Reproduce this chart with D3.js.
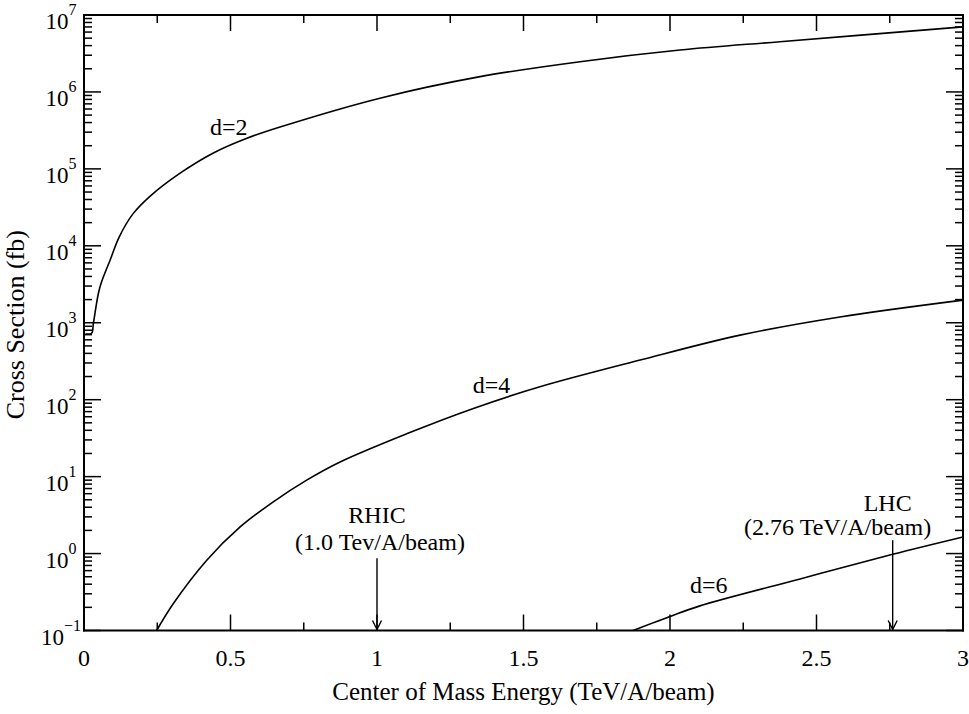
<!DOCTYPE html>
<html>
<head>
<meta charset="utf-8">
<script src="https://cdn.jsdelivr.net/npm/d3@7"></script>
<style>
  body { margin: 0; background: #fff; }
  text { font-family: "Liberation Serif", "Times New Roman", serif; fill: #000; }
</style>
</head>
<body>
<div id="chart"></div>
<script>
// energies (TeV/A/beam) and cross sections (fb)
var energyD2 = [0.005, 0.026, 0.032, 0.049, 0.060, 0.089, 0.12, 0.167, 0.225, 0.328, 0.44, 0.556, 0.669, 1.01, 1.352, 1.693, 2.034, 2.375, 3.0];
var sigmaD2  = [720, 730, 980, 2400, 3400, 6500, 1.3e4, 2.6e4, 4.4e4, 8.8e4, 1.6e5, 2.5e5, 3.5e5, 8.3e5, 1.58e6, 2.47e6, 3.5e6, 4.5e6, 7.0e6];

var energyD4 = [0.248, 0.305, 0.419, 0.532, 0.646, 0.760, 0.874, 1.101, 1.329, 1.556, 1.898, 2.239, 2.580, 3.0];
var sigmaD4  = [0.1, 0.224, 0.82, 2.2, 4.7, 9.0, 15.5, 36, 77, 147, 327, 690, 1190, 1970];

var energyD6 = [1.874, 1.998, 2.102, 2.444, 2.76, 3.0];
var sigmaD6  = [0.1, 0.151, 0.209, 0.468, 0.977, 1.64];

var xMajorTicks = [0, 0.5, 1, 1.5, 2, 2.5, 3];
var xTickLabels = ["0", "0.5", "1", "1.5", "2", "2.5", "3"];
var yExponents = [-1, 0, 1, 2, 3, 4, 5, 6, 7];

var curveLabels = ["d=2", "d=4", "d=6"];
var curveLabelAt = [[0.43, 2.75e5], [1.327, 122], [2.068, 0.305]];

var colliders = ["RHIC", "LHC"];
var colliderEnergy = [1.0, 2.76];
var colliderNotes = ["(1.0 Tev/A/beam)", "(2.76 TeV/A/beam)"];

var svgW = 969, svgH = 714;
var m = { left: 84, top: 15, right: 6, bottom: 83.5 };
var plotW = svgW - m.left - m.right,
    plotH = svgH - m.top - m.bottom;
var pLeft = m.left, pRight = m.left + plotW, pTop = m.top, pBottom = m.top + plotH;

var svg = d3.select("#chart").append("svg")
    .attr("width", svgW)
    .attr("height", svgH);

var xScale = d3.scaleLinear().domain([0, 3]).range([pLeft, pRight]);
var yScale = d3.scaleLog().domain([0.1, 1e7]).range([pBottom, pTop]);

// ticks, mirrored on all four sides and pointing inward
var xMinor = d3.range(0.25, 3, 0.5);
var yMajor = yExponents.map(function(e) { return Math.pow(10, e); });
var yMinor = [];
yExponents.slice(0, -1).forEach(function(e) {
    for (var k = 2; k <= 9; k++) yMinor.push(k * Math.pow(10, e));
});

var xTicks = xMajorTicks.map(function(v) { return [v, 16]; })
    .concat(xMinor.map(function(v) { return [v, 8]; }));
var yTicks = yMajor.map(function(v) { return [v, 17]; })
    .concat(yMinor.map(function(v) { return [v, 8]; }));

var ticks = svg.append("g");
[[pBottom, -1], [pTop, 1]].forEach(function(side) {
    ticks.append("g").selectAll("line")
        .data(xTicks)
        .enter().append("line")
        .attr("x1", function(d) { return xScale(d[0]); })
        .attr("x2", function(d) { return xScale(d[0]); })
        .attr("y1", side[0])
        .attr("y2", function(d) { return side[0] + side[1] * d[1]; })
        .attr("stroke", "#000")
        .attr("stroke-width", 1.5);
});
[[pLeft, 1], [pRight, -1]].forEach(function(side) {
    ticks.append("g").selectAll("line")
        .data(yTicks)
        .enter().append("line")
        .attr("y1", function(d) { return yScale(d[0]); })
        .attr("y2", function(d) { return yScale(d[0]); })
        .attr("x1", side[0])
        .attr("x2", function(d) { return side[0] + side[1] * d[1]; })
        .attr("stroke", "#000")
        .attr("stroke-width", 1.5);
});

// frame as four lines
[[pLeft, pTop, pRight, pTop], [pRight, pTop, pRight, pBottom],
 [pRight, pBottom, pLeft, pBottom], [pLeft, pBottom, pLeft, pTop]].forEach(function(s) {
    svg.append("line")
        .attr("x1", s[0]).attr("y1", s[1])
        .attr("x2", s[2]).attr("y2", s[3])
        .attr("stroke", "#000").attr("stroke-width", 2)
        .attr("stroke-linecap", "square");
});

// tick labels
svg.append("g").selectAll("text")
    .data(xMajorTicks)
    .enter().append("text")
    .attr("x", function(d) { return xScale(d); })
    .attr("y", pBottom + 35)
    .attr("text-anchor", "middle")
    .style("font-size", "24px")
    .text(function(d, i) { return xTickLabels[i]; });

var yLab = svg.append("g").selectAll("text")
    .data(yExponents)
    .enter().append("text")
    .attr("x", 61)
    .attr("y", function(d) { return yScale(Math.pow(10, d)) + 14; })
    .attr("text-anchor", "middle")
    .style("font-size", "23px");
yLab.append("tspan").text("10");
yLab.append("tspan")
    .attr("dy", -14)
    .style("font-size", "16px")
    .text(function(d) { return d < 0 ? "\u2212" + (-d) : d; });

// axis titles
svg.append("text")
    .attr("x", xScale(1.5))
    .attr("y", 700)
    .attr("text-anchor", "middle")
    .style("font-size", "25px")
    .text("Center of Mass Energy (TeV/A/beam)");

svg.append("text")
    .attr("transform", "translate(24," + (pTop + plotH / 2 + 2) + ") rotate(-90)")
    .attr("text-anchor", "middle")
    .style("font-size", "26px")
    .text("Cross Section (fb)");

// curves (all data lie inside the axes, so no clipping is needed)
var lineGen = d3.line()
    .x(function(d) { return xScale(d[0]); })
    .y(function(d) { return yScale(d[1]); })
    .curve(d3.curveCatmullRom.alpha(0.5));

var curves = [
    { e: energyD2, s: sigmaD2 },
    { e: energyD4, s: sigmaD4 },
    { e: energyD6, s: sigmaD6 }
];

svg.append("g")
    .selectAll("path")
    .data(curves)
    .enter().append("path")
    .attr("d", function(c) { return lineGen(d3.zip(c.e, c.s)); })
    .attr("fill", "none")
    .attr("stroke", "#000")
    .attr("stroke-width", 1.6);

svg.append("g").selectAll("text")
    .data(curveLabels)
    .enter().append("text")
    .attr("x", function(d, i) { return xScale(curveLabelAt[i][0]); })
    .attr("y", function(d, i) { return yScale(curveLabelAt[i][1]); })
    .style("font-size", "24px")
    .text(function(d) { return d; });

// collider arrows, heads drawn as open V paths
var arrowTop = [0.87, 1.49];
var nameShift = [0, -5];
var noteShift = [3, -55];
var nameY = [2.48, 3.6];
var noteY = [1.1, 1.73];

colliders.forEach(function(name, i) {
    var ax = xScale(colliderEnergy[i]);
    var tip = pBottom - 1;
    svg.append("line")
        .attr("x1", ax).attr("x2", ax)
        .attr("y1", yScale(arrowTop[i]))
        .attr("y2", tip)
        .attr("stroke", "#000").attr("stroke-width", 1.4);
    svg.append("path")
        .attr("d", "M" + (ax - 4.5) + "," + (tip - 9) + "L" + ax + "," + tip + "L" + (ax + 4.5) + "," + (tip - 9))
        .attr("fill", "none").attr("stroke", "#000").attr("stroke-width", 1.4);
    svg.append("text")
        .attr("x", ax + nameShift[i])
        .attr("y", yScale(nameY[i]))
        .attr("text-anchor", "middle")
        .style("font-size", "24px")
        .text(name);
    svg.append("text")
        .attr("x", ax + noteShift[i])
        .attr("y", yScale(noteY[i]))
        .attr("text-anchor", "middle")
        .style("font-size", "24px")
        .text(colliderNotes[i]);
});
</script>
</body>
</html>
